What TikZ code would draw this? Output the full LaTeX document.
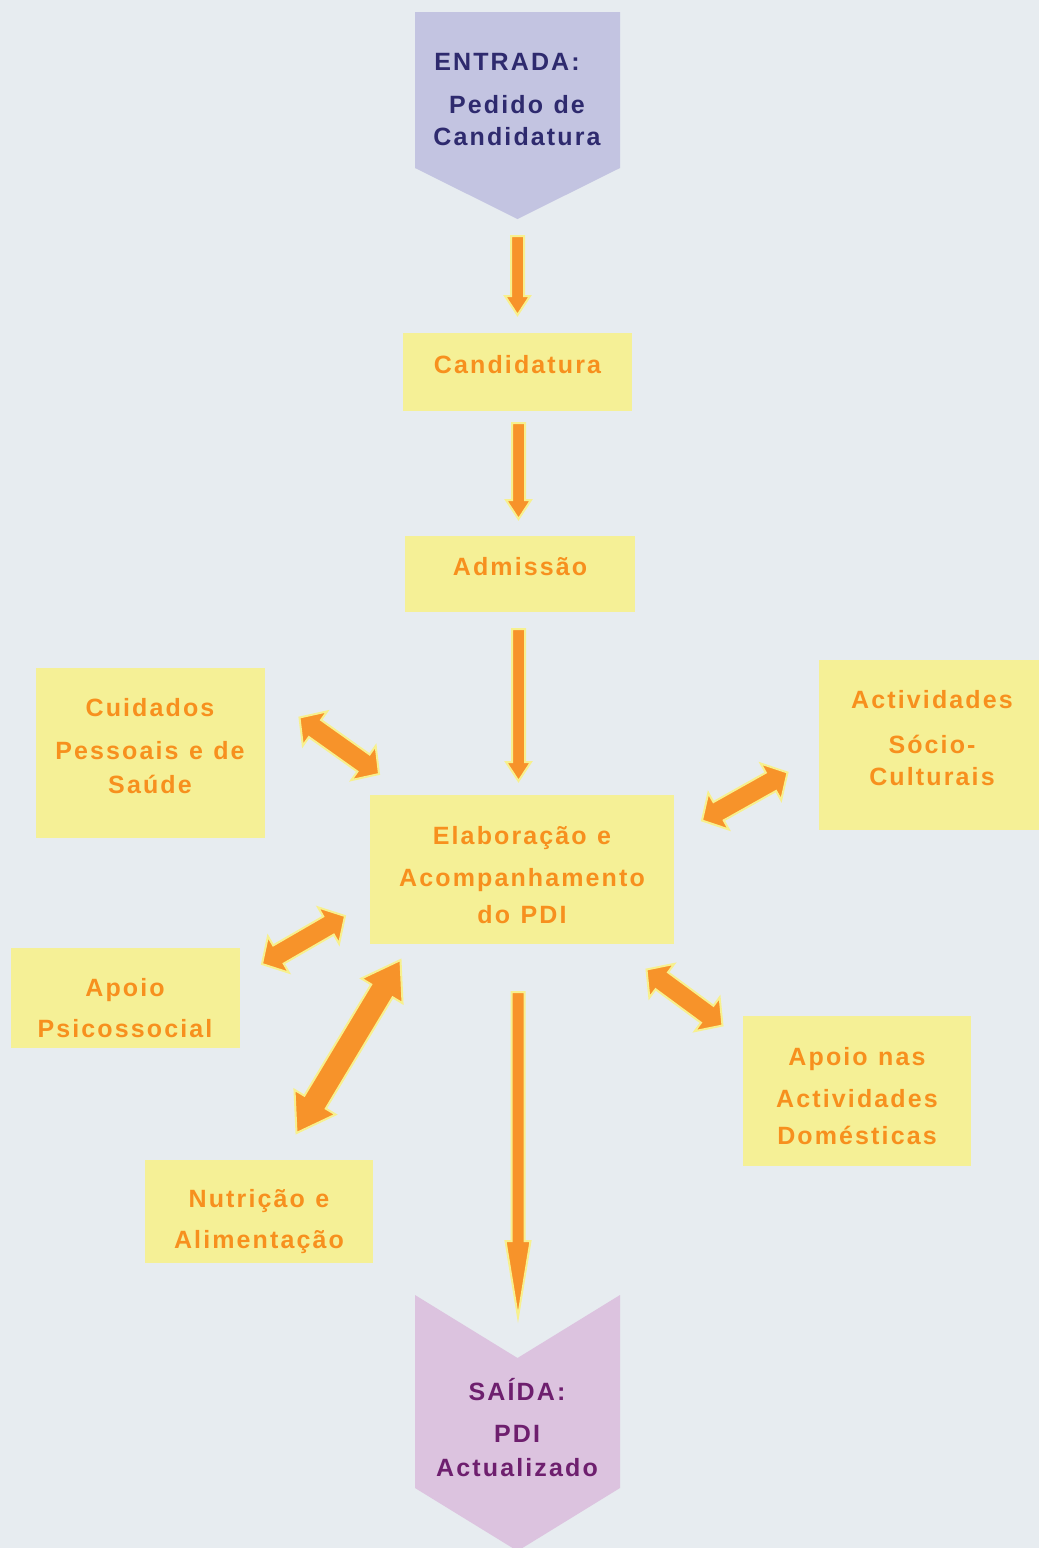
\documentclass[tikz,border=0pt]{standalone}
\usepackage{fontspec}
\usetikzlibrary{calc}
\newfontfamily\flowfont{Liberation Sans}[LetterSpace=8.5, WordSpace=1.15]

\definecolor{bgcol}{HTML}{E7ECF0}
\definecolor{boxfill}{HTML}{F5F096}
\definecolor{flowtext}{HTML}{F7901E}
\definecolor{arrowfill}{HTML}{F7932A}
\definecolor{arrowedge}{HTML}{F7F08E}
\definecolor{infill}{HTML}{C3C4E1}
\definecolor{intext}{HTML}{2E2A6E}
\definecolor{outfill}{HTML}{DCC3DF}
\definecolor{outtext}{HTML}{6E1F6E}

\tikzset{
  stagebox/.style={rectangle, fill=boxfill, draw=none, inner sep=0pt},
  lbl/.style={font=\flowfont\bfseries\fontsize{25}{34}\selectfont, align=center,
              text=flowtext, inner sep=0pt},
  blockarrow/.style={fill=arrowfill, draw=arrowedge, line width=2pt, line join=miter},
}

% single block arrow: #1 tail, #2 tip, #3 half shaft, #4 half head, #5 head length
\newcommand\singlearrow[5]{%
  \coordinate (hb) at ($(#2)!#5!(#1)$);
  \filldraw[blockarrow] ($(#1)!#3!90:(#2)$) -- ($(hb)!#3!-90:(#1)$)
    -- ($(hb)!#4!-90:(#1)$) -- (#2) -- ($(hb)!#4!90:(#1)$)
    -- ($(hb)!#3!90:(#1)$) -- ($(#1)!#3!-90:(#2)$) -- cycle;}

% double block arrow between two tips
\newcommand\doublearrow[5]{%
  \coordinate (ha) at ($(#1)!#5!(#2)$);
  \coordinate (hb) at ($(#2)!#5!(#1)$);
  \filldraw[blockarrow] (#1) -- ($(ha)!#4!90:(#2)$) -- ($(ha)!#3!90:(#2)$)
    -- ($(hb)!#3!-90:(#1)$) -- ($(hb)!#4!-90:(#1)$) -- (#2)
    -- ($(hb)!#4!90:(#1)$) -- ($(hb)!#3!90:(#1)$)
    -- ($(ha)!#3!-90:(#2)$) -- ($(ha)!#4!-90:(#2)$) -- cycle;}

\begin{document}
\begin{tikzpicture}[x=1pt, y=-1pt]
  \fill[bgcol] (0,0) rectangle (1039,1548);
  \useasboundingbox (0,0) rectangle (1039,1548);

  % input and output chevrons
  \fill[infill] (415,12) -- (620,12) -- (620,168) -- (517.5,219) -- (415,168) -- cycle;
  \node[lbl, text=intext] (in-head) at (507,62) {ENTRADA:};
  \node[lbl, text=intext] (in-text) at (517,121) {Pedido de\\[-2pt]Candidatura};

  \fill[outfill] (415,1295) -- (517.5,1358) -- (620,1295) -- (620,1488)
     -- (517.5,1551) -- (415,1488) -- cycle;
  \node[lbl, text=outtext] (out-text) at (517,1428) {SAÍDA:\\[8pt]PDI\\Actualizado};

  % process stages
  \node[stagebox, minimum width=229, minimum height=78] (cand) at (517.5,372) {};
  \node[lbl] (cand-t) at (517.5,365) {Candidatura};

  \node[stagebox, minimum width=230, minimum height=76] (adm) at (520,574) {};
  \node[lbl] (adm-t) at (520,567) {Admissão};

  \node[stagebox, minimum width=304, minimum height=149] (elab) at (522,869.5) {};
  \node[lbl] (elab-t) at (522,875.5) {Elaboração e\\[8pt]Acompanhamento\\[3pt]do PDI};

  \node[stagebox, minimum width=229, minimum height=170] (cuid) at (150.5,753) {};
  \node[lbl] (cuid-t) at (150,746) {Cuidados\\[9pt]Pessoais e de\\Saúde};

  \node[stagebox, minimum width=220, minimum height=170] (activ) at (929,745) {};
  \node[lbl] (activ-t) at (932,738.5) {Actividades\\[11pt]Sócio-\\[-2pt]Culturais};

  \node[stagebox, minimum width=229, minimum height=100] (psico) at (125.5,998) {};
  \node[lbl] (psico-t) at (125,1008.5) {Apoio\\[7pt]Psicossocial};

  \node[stagebox, minimum width=228, minimum height=103] (nutri) at (259,1211.5) {};
  \node[lbl] (nutri-t) at (259,1221.5) {Nutrição e\\[7pt]Alimentação};

  \node[stagebox, minimum width=228, minimum height=150] (domes) at (857,1091) {};
  \node[lbl] (domes-t) at (857,1096.5) {Apoio nas\\[8pt]Actividades\\[3pt]Domésticas};

  % arrow end points
  \coordinate (a1s) at (517.5,236);  \coordinate (a1e) at (517.5,315);
  \coordinate (a2s) at (518.5,423);  \coordinate (a2e) at (518.5,519);
  \coordinate (a3s) at (518.5,629);  \coordinate (a3e) at (518.5,781);
  \coordinate (a4s) at (518,992);    \coordinate (a4e) at (518,1317);

  \coordinate (cuid-a) at (299.5,717.5);  \coordinate (cuid-b) at (379,774);
  \coordinate (activ-a) at (702,820.5);   \coordinate (activ-b) at (787.5,772.5);
  \coordinate (domes-a) at (646.5,969.5); \coordinate (domes-b) at (722.5,1025.5);
  \coordinate (psico-a) at (262,964);     \coordinate (psico-b) at (345,916);
  \coordinate (nutri-a) at (296.5,1133);  \coordinate (nutri-b) at (400.5,960);

  % main flow
  \singlearrow{a1s}{a1e}{6.5pt}{12.5pt}{19pt}
  \singlearrow{a2s}{a2e}{6.5pt}{12.5pt}{19pt}
  \singlearrow{a3s}{a3e}{6.5pt}{12.5pt}{19pt}
  \singlearrow{a4s}{a4e}{6.5pt}{12.5pt}{76pt}

  % support services
  \doublearrow{cuid-a}{cuid-b}{10.5pt}{21pt}{19pt}
  \doublearrow{activ-a}{activ-b}{10.5pt}{21pt}{19pt}
  \doublearrow{domes-a}{domes-b}{10.5pt}{21pt}{19pt}
  \doublearrow{psico-a}{psico-b}{10.5pt}{21pt}{19pt}
  \doublearrow{nutri-a}{nutri-b}{12.5pt}{24pt}{36pt}
\end{tikzpicture}
\end{document}
